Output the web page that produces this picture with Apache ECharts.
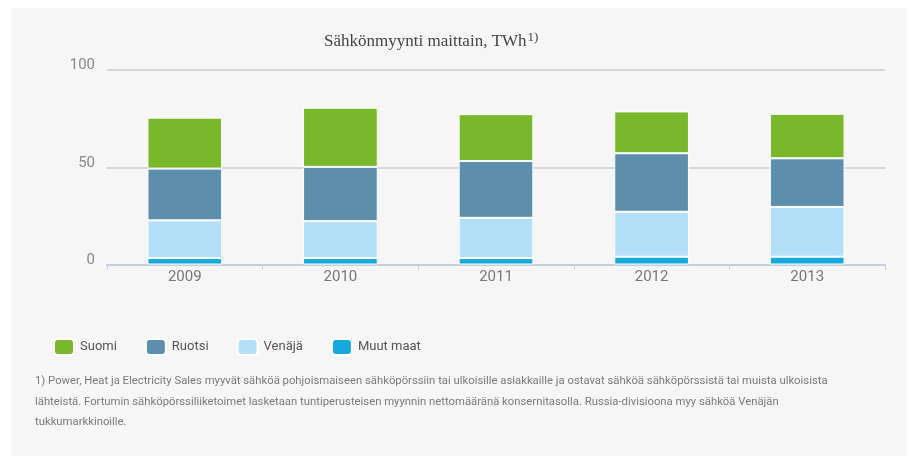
<!DOCTYPE html>
<html>
<head>
<meta charset="utf-8">
<script src="https://cdn.jsdelivr.net/npm/echarts@6/dist/echarts.min.js"></script>
<style>
html,body{margin:0;padding:0;background:#fff;}
#c{width:912px;height:456px;}
</style>
</head>
<body>
<div id="c"></div>
<script>
const years = ['2009', '2010', '2011', '2012', '2013'];
const suomi = [26.2, 30.4, 24.1, 21.5, 22.9];
const ruotsi = [26.6, 27.9, 29.2, 30.1, 25.0];
const venaja = [19.4, 19.0, 20.7, 23.1, 25.6];
const muutMaat = [3.3, 3.3, 3.3, 4.0, 4.0];
const seriesNames = ['Suomi', 'Ruotsi', 'Venäjä', 'Muut maat'];
const titleText = 'Sähkönmyynti maittain, TWh';
const footnoteLines = [
  '1) Power, Heat ja Electricity Sales myyvät sähköä pohjoismaiseen sähköpörssiin tai ulkoisille asiakkaille ja ostavat sähköä sähköpörssistä tai muista ulkoisista',
  'lähteistä. Fortumin sähköpörssiliiketoimet lasketaan tuntiperusteisen myynnin nettomääränä konsernitasolla. Russia-divisioona myy sähköä Venäjän',
  'tukkumarkkinoille.'
];

const colors = {
  'Suomi': '#78b82a',
  'Ruotsi': '#5d8fad',
  'Venäjä': '#b3e0f8',
  'Muut maat': '#17a9dc'
};

const chart = echarts.init(document.getElementById('c'), null, {renderer: 'canvas'});

function barSeries(name, data) {
  return {
    name: name,
    type: 'bar',
    stack: 'total',
    data: data,
    barWidth: '48%',
    itemStyle: { color: colors[name], borderColor: '#ffffff', borderWidth: 1 },
    emphasis: { disabled: true }
  };
}

chart.setOption({
  backgroundColor: '#ffffff',
  animation: false,
  graphic: [
    { type: 'rect', z: -10, silent: true, shape: { x: 11, y: 8, width: 896, height: 448 }, style: { fill: '#f5f6f5' } },
    {
      type: 'text', left: 35, top: 371, silent: true,
      style: {
        text: footnoteLines.join('\n'),
        font: '11.3px Roboto',
        fill: '#7a7a7a',
        lineHeight: 20.5
      }
    }
  ],
  title: {
    text: titleText + '{sup|1)}',
    left: 319,
    top: 26,
    textStyle: {
      fontFamily: 'Liberation Serif',
      fontSize: 17,
      fontWeight: 'normal',
      color: '#444',
      rich: {
        sup: { fontFamily: 'Liberation Serif', fontSize: 13, color: '#444', verticalAlign: 'top', padding: [0, 0, 9, 1] }
      }
    }
  },
  legend: {
    data: seriesNames,
    left: 48,
    top: 333,
    itemWidth: 20,
    itemHeight: 16,
    itemGap: 28,
    icon: 'roundRect',
    selectedMode: false,
    textStyle: { fontFamily: 'Roboto', fontSize: 13, color: '#555', padding: [0, 0, 0, 1] }
  },
  grid: { left: 107, right: 27, top: 70, bottom: 191.5, containLabel: false },
  xAxis: {
    type: 'category',
    data: years,
    axisLine: { lineStyle: { color: '#c6cedb', width: 2 } },
    axisTick: { show: true, length: 5, lineStyle: { color: '#c6cedb', width: 1 } },
    axisLabel: { fontFamily: 'Roboto', fontSize: 15, color: '#777', margin: 5 }
  },
  yAxis: {
    type: 'value',
    min: 0,
    max: 100,
    interval: 50,
    axisLine: { show: false },
    axisTick: { show: false },
    axisLabel: { fontFamily: 'Roboto', fontSize: 15, color: '#888', margin: 12, verticalAlign: 'bottom', lineHeight: 9 },
    splitLine: { lineStyle: { color: '#cccccc', width: 1.5 } }
  },
  series: [
    barSeries('Muut maat', muutMaat),
    barSeries('Venäjä', venaja),
    barSeries('Ruotsi', ruotsi),
    barSeries('Suomi', suomi)
  ]
});
</script>
</body>
</html>
